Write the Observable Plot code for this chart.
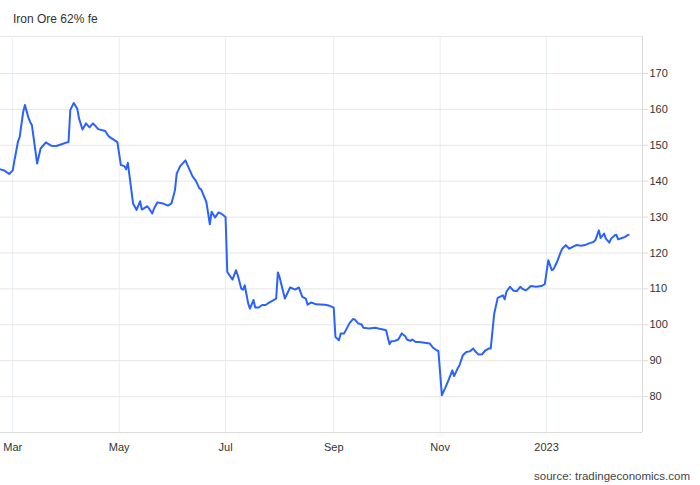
<!DOCTYPE html>
<html lang="en">
<head>
    <meta charset="UTF-8">
    <title>Iron Ore 62% fe</title>
    <script src="https://cdn.jsdelivr.net/npm/d3@7"></script>
    <script src="https://cdn.jsdelivr.net/npm/@observablehq/plot@0.6"></script>
    <style>
        body { margin: 0; background: #fff; font-family: "Liberation Sans", Arial, sans-serif; }
        #wrap { position: relative; width: 700px; height: 485px; }
        #title { position: absolute; left: 13px; top: 12px; line-height: 14px; font-size: 12px; color: #333; }
        #chart { position: absolute; left: 0; top: 36px; }
        #source { position: absolute; right: 10px; top: 469px; line-height: 14px; font-size: 11.5px; color: #444; }
    </style>
</head>
<body>
<div id="wrap">
    <div id="title">Iron Ore 62% fe</div>
    <div id="chart"></div>
    <div id="source">source: tradingeconomics.com</div>
</div>
<script>
    // prix (USD/t)
    const dates = [
        "2022-02-22","2022-02-24","2022-02-27","2022-03-01","2022-03-02","2022-03-04","2022-03-05","2022-03-07",
        "2022-03-08","2022-03-10","2022-03-11","2022-03-12","2022-03-15","2022-03-17","2022-03-20","2022-03-23",
        "2022-03-26","2022-03-29","2022-04-01","2022-04-02","2022-04-03","2022-04-05","2022-04-07","2022-04-08",
        "2022-04-10","2022-04-12","2022-04-14","2022-04-16","2022-04-17","2022-04-19","2022-04-23","2022-04-25",
        "2022-04-30","2022-05-02","2022-05-04","2022-05-05","2022-05-06","2022-05-08","2022-05-09","2022-05-11",
        "2022-05-13","2022-05-14","2022-05-17","2022-05-18","2022-05-20","2022-05-21","2022-05-23","2022-05-26",
        "2022-05-29","2022-05-31","2022-06-02","2022-06-03","2022-06-05","2022-06-08","2022-06-09","2022-06-12",
        "2022-06-14","2022-06-16","2022-06-17","2022-06-20","2022-06-22","2022-06-23","2022-06-25","2022-06-27",
        "2022-06-29","2022-07-01","2022-07-02","2022-07-05","2022-07-07","2022-07-08","2022-07-10","2022-07-11",
        "2022-07-12","2022-07-14","2022-07-15","2022-07-17","2022-07-18","2022-07-20","2022-07-22","2022-07-24",
        "2022-07-26","2022-07-30","2022-07-31","2022-08-01","2022-08-04","2022-08-07","2022-08-10","2022-08-12",
        "2022-08-14","2022-08-16","2022-08-17","2022-08-19","2022-08-22","2022-08-27","2022-08-29","2022-09-01",
        "2022-09-02","2022-09-04","2022-09-05","2022-09-07","2022-09-10","2022-09-12","2022-09-13","2022-09-15",
        "2022-09-17","2022-09-18","2022-09-21","2022-09-25","2022-09-28","2022-10-01","2022-10-03","2022-10-04",
        "2022-10-06","2022-10-08","2022-10-10","2022-10-12","2022-10-13","2022-10-15","2022-10-16","2022-10-18",
        "2022-10-20","2022-10-23","2022-10-26","2022-10-28","2022-10-30","2022-10-31","2022-11-02","2022-11-04",
        "2022-11-06","2022-11-08","2022-11-09","2022-11-11","2022-11-12","2022-11-14","2022-11-16","2022-11-18",
        "2022-11-20","2022-11-21","2022-11-23","2022-11-25","2022-11-27","2022-11-29","2022-11-30","2022-12-02",
        "2022-12-04","2022-12-07","2022-12-08","2022-12-09","2022-12-11","2022-12-13","2022-12-15","2022-12-17",
        "2022-12-18","2022-12-20","2022-12-21","2022-12-23","2022-12-26","2022-12-29","2022-12-31","2023-01-02",
        "2023-01-04","2023-01-05","2023-01-07","2023-01-09","2023-01-10","2023-01-12","2023-01-14","2023-01-16",
        "2023-01-18","2023-01-21","2023-01-23","2023-01-25","2023-01-28","2023-01-29","2023-01-31","2023-02-01",
        "2023-02-03","2023-02-04","2023-02-06","2023-02-07","2023-02-09","2023-02-10","2023-02-11","2023-02-14",
        "2023-02-15","2023-02-17"
    ];
    const prices = [
        143.3,143.0,142.0,143.0,145.8,151.0,152.3,159.3,
        161.2,157.7,156.5,155.6,144.9,149.1,150.8,149.9,
        149.8,150.3,150.8,150.9,159.8,161.8,160.2,157.5,
        154.4,156.1,155.0,156.1,155.6,154.5,154.0,152.5,
        150.9,144.5,144.2,143.3,145.1,137.5,133.8,132.0,
        134.4,132.1,133.0,132.5,131.0,132.4,134.1,133.8,
        133.2,133.8,137.5,142.1,144.2,145.8,144.7,141.4,
        140.1,138.0,137.7,134.2,128.0,131.5,129.9,131.3,
        130.8,130.0,114.7,112.6,115.2,113.8,110.1,109.8,
        111.0,105.9,104.5,106.9,104.8,104.8,105.5,105.5,
        106.2,107.3,114.6,113.2,107.3,110.4,109.8,110.4,
        107.8,107.3,105.6,106.2,105.7,105.6,105.4,104.8,
        96.6,95.7,97.6,97.6,100.4,101.6,101.5,100.4,
        100.1,99.2,99.0,99.2,98.8,98.5,94.6,95.4,
        95.5,95.9,97.6,96.8,95.9,95.5,95.9,95.2,
        95.2,95.0,94.8,93.6,92.9,92.7,80.4,82.5,
        84.8,87.3,85.7,87.8,88.6,91.5,92.4,92.6,
        93.4,92.7,91.7,91.8,92.9,93.4,93.4,103.1,
        107.5,108.2,107.1,109.2,110.6,109.5,109.4,110.6,
        110.1,109.6,109.9,110.8,110.6,110.8,111.3,118.0,
        115.2,115.5,117.5,120.1,121.2,122.2,121.2,121.7,
        122.2,122.0,122.2,122.6,123.1,123.6,126.3,124.2,
        125.4,124.0,122.9,124.0,124.9,125.1,123.8,124.3,
        124.5,125.1
    ];
    const xTicks = ["2022-03-01","2022-05-01","2022-07-01","2022-09-01","2022-11-01","2023-01-01"];
    const yTicks = [80, 90, 100, 110, 120, 130, 140, 150, 160, 170];
    const xDomain = ["2022-02-22", "2023-02-25"];
    const yDomain = [70, 180.3];

    const data = dates.map((d, i) => ({date: new Date(d), price: prices[i]}));
    const xTickDates = xTicks.map(d => new Date(d));
    const xDom = xDomain.map(d => new Date(d));

    const formatMois = d => d.getUTCMonth() === 0 ? d3.utcFormat("%Y")(d) : d3.utcFormat("%b")(d);

    const chart = Plot.plot({
        width: 700,
        height: 430,
        marginTop: 0,
        marginLeft: 0,
        marginRight: 58,
        marginBottom: 34,
        style: {fontFamily: '"Liberation Sans", Arial, sans-serif', fontSize: "11px", color: "#333", background: "#fff"},
        x: {type: "utc", domain: xDom},
        y: {domain: yDomain},
        marks: [
            Plot.gridX(xTickDates, {stroke: "#e8eef4", strokeOpacity: 1}),
            Plot.gridY(yTicks, {stroke: "#e6e6e6", strokeOpacity: 1}),
            Plot.ruleY([yDomain[1]], {stroke: "#e6e6e6"}),
            Plot.ruleY([yDomain[0]], {stroke: "#dcdcdc"}),
            Plot.ruleX([xDom[1]], {stroke: "#dcdcdc"}),
            Plot.axisX(xTickDates, {tickSize: 0, tickPadding: 11, tickFormat: formatMois, fill: "#333", label: null}),
            Plot.axisY(yTicks, {anchor: "right", tickSize: 5, tickPadding: 2, stroke: "#dcdcdc", fill: "#333", label: null}),
            Plot.line(data, {x: "date", y: "price", stroke: "#2962ff", strokeWidth: 2})
        ]
    });

    document.getElementById("chart").appendChild(chart);
</script>
</body>
</html>
